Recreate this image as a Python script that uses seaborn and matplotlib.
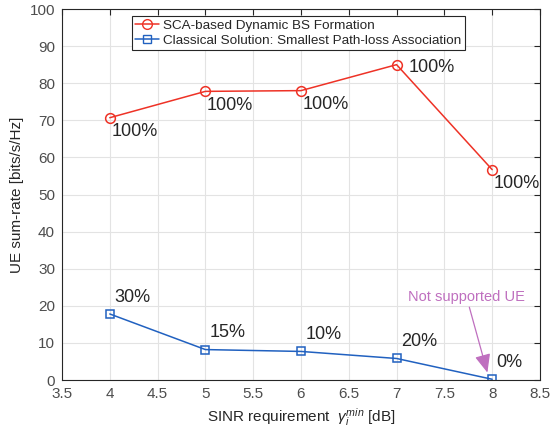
import numpy as np
import pandas as pd
import matplotlib
matplotlib.use("Agg")
import matplotlib.pyplot as plt
import seaborn as sns

# SINR requirement [dB]
sinr = [4, 5, 6, 7, 8]
# UE sum-rate [bits/s/Hz]
rate_sca = [70.7, 77.8, 78.0, 85.0, 56.7]
rate_classic = [17.8, 8.2, 7.7, 5.8, 0.2]
# served-UE percentages
pct_sca = ["100%", "100%", "100%", "100%", "100%"]
pct_classic = ["30%", "15%", "10%", "20%", "0%"]

name_sca = "SCA-based Dynamic BS Formation"
name_classic = "Classical Solution: Smallest Path-loss Association"

df = pd.DataFrame({
    "sinr": sinr * 2,
    "rate": rate_sca + rate_classic,
    "method": [name_sca] * 5 + [name_classic] * 5,
})

sns.set_style("whitegrid")
plt.rcParams["font.family"] = ["Liberation Sans", "DejaVu Sans"]
plt.rcParams["mathtext.fontset"] = "custom"
plt.rcParams["mathtext.it"] = "Liberation Sans:italic"
plt.rcParams["mathtext.rm"] = "Liberation Sans"

ink = "#262626"
red = "#ee3226"
blue = "#2161c0"

fig = plt.figure(figsize=(5.51, 4.33), dpi=100)
ax = fig.add_axes([0.1125, 0.1224, 0.8675, 0.8568])

sns.lineplot(data=df, x="sinr", y="rate", hue="method", style="method",
             palette={name_sca: red, name_classic: blue},
             markers={name_sca: "o", name_classic: "s"},
             dashes=False, ax=ax, linewidth=1.1, legend=False)
for line, ms in zip(ax.lines, [7, 5.5]):
    line.set_markersize(ms)
    line.set_markerfacecolor("none")
    line.set_markeredgecolor(line.get_color())
    line.set_markeredgewidth(1.1)

# legend (Matlab style box)
h1, = ax.plot([], [], color=red, marker="o", mfc="none", ms=7, lw=1.1)
h2, = ax.plot([], [], color=blue, marker="s", mfc="none", ms=5.5, lw=1.1)
leg = ax.legend([h1, h2], [name_sca, name_classic], loc="upper left",
                bbox_to_anchor=(0.146, 0.981), fontsize=9.7, fancybox=False,
                framealpha=1, edgecolor=ink, borderpad=0.25, labelspacing=0.2,
                handlelength=1.8, handletextpad=0.3, borderaxespad=0)
leg.get_frame().set_linewidth(0.8)

# percentage labels
for x, y, t in zip(sinr, rate_sca, pct_sca):
    if x == 7:
        ax.annotate(t, (x, y), xytext=(9, -2), textcoords="offset points",
                    ha="left", va="center", fontsize=13, color=ink)
    else:
        ax.annotate(t, (x, y), xytext=(1, -4), textcoords="offset points",
                    ha="left", va="top", fontsize=13, color=ink)
for x, y, t in zip(sinr, rate_classic, pct_classic):
    ax.annotate(t, (x, y), xytext=(3, 6), textcoords="offset points",
                ha="left", va="bottom", fontsize=13, color=ink)

ax.annotate("Not supported UE", xy=(7.95, 2.0), xytext=(7.12, 22.4),
            ha="left", va="center", fontsize=10.5, color="#bf6fbf",
            arrowprops=dict(arrowstyle="-|>,head_length=0.7,head_width=0.3",
                            color="#bf6fbf", lw=0.9,
                            shrinkA=0, shrinkB=0, mutation_scale=16),
            annotation_clip=False)

ax.set_xlim(3.5, 8.5)
ax.set_ylim(0, 100)
ax.set_xticks(np.arange(3.5, 8.51, 0.5))
ax.set_xticklabels(["3.5", "4", "4.5", "5", "5.5", "6", "6.5", "7", "7.5", "8", "8.5"])
ax.set_yticks(np.arange(0, 101, 10))
ax.set_xlabel(r"SINR requirement  $\gamma_i^{min}$ [dB]", fontsize=11, color=ink)
ax.set_ylabel("UE sum-rate [bits/s/Hz]", fontsize=11, color=ink)

ax.grid(True, color="#e3e3e3", linewidth=0.8)
for s in ax.spines.values():
    s.set_visible(True)
    s.set_color(ink)
    s.set_linewidth(0.8)
ax.tick_params(direction="in", length=4, width=0.8, colors=ink,
               labelsize=11, top=True, right=True, pad=5)
ax.tick_params(labelcolor="#4d4d4d")

fig.savefig("out.png", dpi=100)
